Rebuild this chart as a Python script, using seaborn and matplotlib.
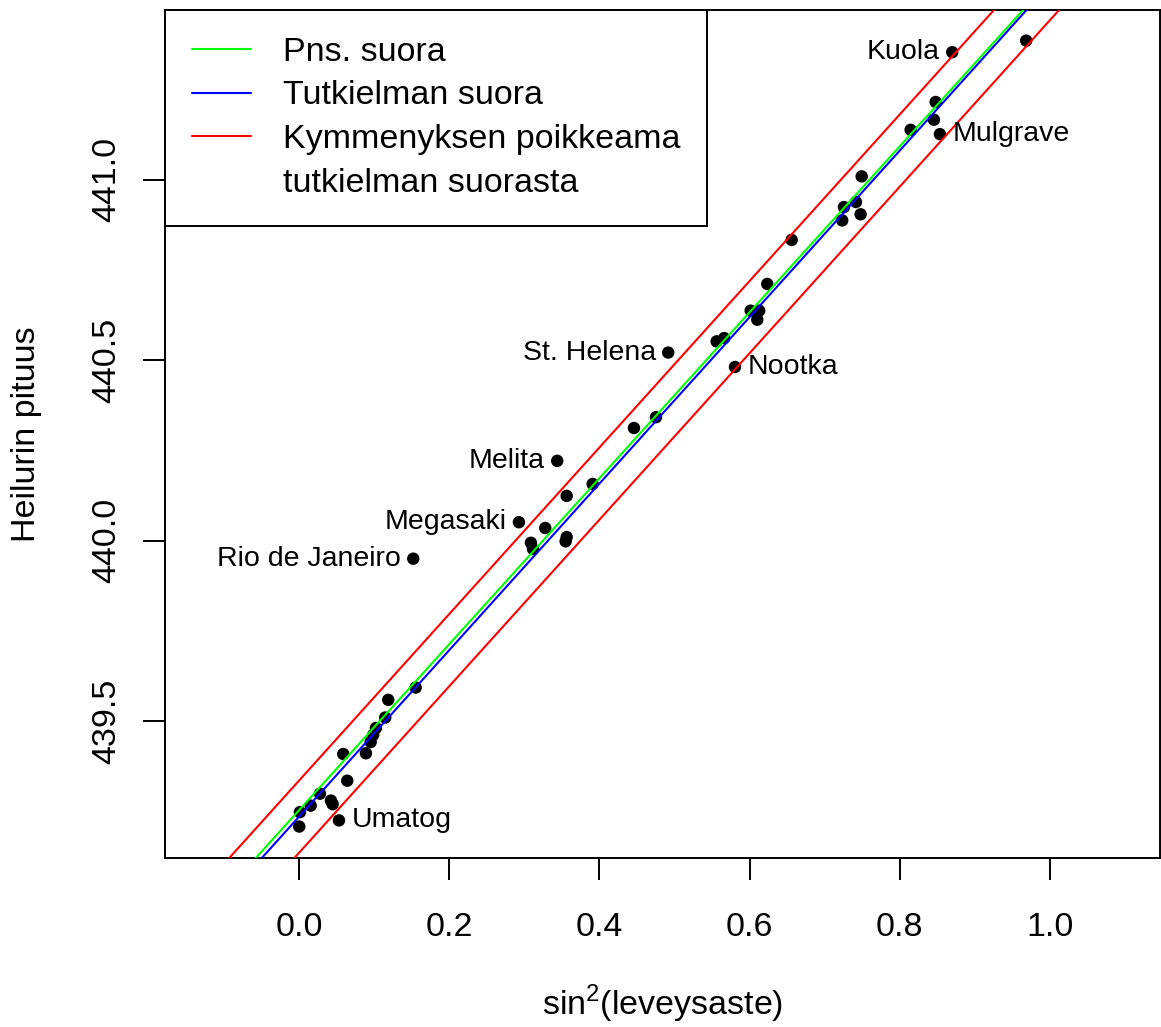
"""
Heilurin pituus vs. sin^2(leveysaste): havainnot, pns-suora,
tutkielman suora ja sen +-0.1 poikkeamat.
"""

import matplotlib
matplotlib.use("Agg")
import pandas as pd
import seaborn as sns
import matplotlib.pyplot as plt
from matplotlib.lines import Line2D

# ---------------------------
# Data
# ---------------------------
sin2 = [0.9684, 0.8699, 0.8478, 0.8455, 0.8145, 0.8535, 0.7493, 0.7257,
        0.7417, 0.7479, 0.7234, 0.6561, 0.6236, 0.6015, 0.6129, 0.6103,
        0.4917, 0.5562, 0.5663, 0.5806, 0.4754, 0.4461, 0.3439, 0.3911,
        0.3565, 0.2929, 0.3280, 0.3089, 0.3116, 0.3565, 0.3551, 0.1522,
        0.1554, 0.1189, 0.1149, 0.1025, 0.0989, 0.0955, 0.0892, 0.0590,
        0.0643, 0.0280, 0.0156, 0.0013, 0.0426, 0.0449, 0.0533, 0.0004]
pituus = [441.385, 441.353, 441.215, 441.166, 441.138, 441.126, 441.009, 440.924,
          440.938, 440.904, 440.887, 440.833, 440.711, 440.637, 440.637, 440.612,
          440.521, 440.552, 440.561, 440.481, 440.342, 440.312, 440.221, 440.157,
          440.124, 440.051, 440.035, 439.994, 439.977, 440.010, 439.998, 439.950,
          439.593, 439.559, 439.510, 439.481, 439.462, 439.442, 439.411, 439.409,
          439.335, 439.299, 439.266, 439.248, 439.280, 439.270, 439.225, 439.208]
asema = ["", "Kuola", "", "", "", "Mulgrave", "", "",
         "", "", "", "", "", "", "", "",
         "St. Helena", "", "", "Nootka", "", "", "Melita", "",
         "", "Megasaki", "", "", "", "", "", "Rio de Janeiro",
         "", "", "", "", "", "", "", "",
         "", "", "", "", "", "", "Umatog", ""]
vasemmalle = {"Kuola", "St. Helena", "Melita", "Megasaki", "Rio de Janeiro"}

# (intercept, slope)
pns_suora = (439.253, 2.2991)
tutkielman_suora = (439.235, 2.3068)
poikkeama = 0.1

xticks = [0.0, 0.2, 0.4, 0.6, 0.8, 1.0]
yticks = [439.5, 440.0, 440.5, 441.0]

df = pd.DataFrame({"sin2": sin2, "pituus": pituus, "asema": asema})

# ---------------------------
# Plot
# ---------------------------
sns.set_theme(style="ticks")
plt.rcParams["font.family"] = ["Liberation Sans", "DejaVu Sans"]
plt.rcParams["mathtext.fontset"] = "custom"
plt.rcParams["mathtext.rm"] = "Liberation Sans"
plt.rcParams["text.color"] = "black"
plt.rcParams["axes.labelcolor"] = "black"

fig = plt.figure(figsize=(11.61, 10.27), dpi=100)
ax = fig.add_axes([0.1421, 0.1646, 0.8570, 0.8257])

sns.scatterplot(data=df, x="sin2", y="pituus", color="black", s=80,
                edgecolor="none", legend=False, ax=ax, zorder=2)

lw = 1.5
a, b = pns_suora
ax.axline((0, a), slope=b, color="#00ff00", lw=lw, zorder=3)
a, b = tutkielman_suora
ax.axline((0, a), slope=b, color="#0000ff", lw=lw, zorder=3)
ax.axline((0, a + poikkeama), slope=b, color="#ff0000", lw=lw, zorder=3)
ax.axline((0, a - poikkeama), slope=b, color="#ff0000", lw=lw, zorder=3)

for _, r in df[df["asema"] != ""].iterrows():
    left = r["asema"] in vasemmalle
    ax.annotate(r["asema"], (r["sin2"], r["pituus"]),
                xytext=(-9 if left else 9, 0), textcoords="offset points",
                ha="right" if left else "left", va="center", fontsize=20.5)

ax.set_xlim(-0.1784, 1.1465)
ax.set_ylim(439.121, 441.470)
ax.set_xticks(xticks)
ax.set_xticklabels([f"{v:.1f}" for v in xticks])
ax.set_yticks(yticks)
ax.set_yticklabels([f"{v:.1f}" for v in yticks], rotation=90, va="center")

for sp in ax.spines.values():
    sp.set_linewidth(1.4)
    sp.set_color("black")
ax.tick_params(axis="both", length=16, width=1.4, color="black",
               labelsize=24.5, labelcolor="black")
ax.tick_params(axis="x", pad=23)
ax.tick_params(axis="y", pad=15)

ax.set_xlabel(r"sin$^{\mathregular{2}}$(leveysaste)", fontsize=24.5)
ax.set_ylabel("Heilurin pituus", fontsize=24.5)
ax.xaxis.set_label_coords(0.5, -0.147)
ax.yaxis.set_label_coords(-0.1236, 0.5)

handles = [Line2D([], [], color="#00ff00", lw=lw),
           Line2D([], [], color="#0000ff", lw=lw),
           Line2D([], [], color="#ff0000", lw=lw),
           Line2D([], [], color="none", lw=lw)]
labels = ["Pns. suora", "Tutkielman suora", "Kymmenyksen poikkeama",
          "tutkielman suorasta"]
leg = ax.legend(handles, labels, loc="upper left", borderaxespad=0,
                frameon=True, fancybox=False, edgecolor="black", framealpha=1,
                fontsize=24.5, handlelength=1.76, handletextpad=0.94,
                labelspacing=0.38, borderpad=0.78)
leg.get_frame().set_linewidth(1.4)

fig.savefig("out.png", dpi=100)
